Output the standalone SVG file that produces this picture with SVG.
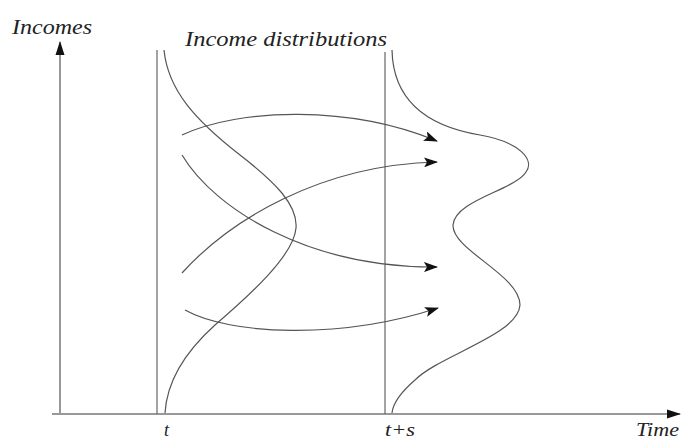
<svg xmlns="http://www.w3.org/2000/svg" width="682" height="441" viewBox="0 0 682 441">
<defs>
<marker id="ah" markerUnits="userSpaceOnUse" markerWidth="14" markerHeight="10" refX="13" refY="5" orient="auto">
<path d="M0,0 L14,5 L0,10 L3,5 Z" fill="#111"/>
</marker>
<marker id="axh" markerUnits="userSpaceOnUse" markerWidth="14" markerHeight="10" refX="13" refY="5" orient="auto">
<path d="M0,0.5 L14,5 L0,9.5 Z" fill="#111"/>
</marker>
<style>
.ax{stroke:#999;stroke-width:2;fill:none}
.vl{stroke:#666;stroke-width:1.2;fill:none}
.cv{stroke:#555;stroke-width:1.2;fill:none}
.ar{stroke:#555;stroke-width:1.2;fill:none;marker-end:url(#ah)}
.lb{font-family:"Liberation Serif",serif;font-style:italic;fill:#222}
</style>
</defs>
<rect width="682" height="441" fill="#fff"/>
<g id="axes">
<line class="ax" x1="60" y1="414" x2="60" y2="42" marker-end="url(#axh)"/>
<line class="ax" x1="52" y1="414" x2="680" y2="414" marker-end="url(#axh)"/>
</g>
<g id="time-t">
<line class="vl" x1="157" y1="50" x2="157" y2="414"/>
<text class="lb" x="164" y="436" font-size="18">t</text>
</g>
<g id="time-ts">
<line class="vl" x1="385" y1="52" x2="385" y2="414"/>
<text class="lb" x="385" y="436" font-size="18" textLength="30" lengthAdjust="spacingAndGlyphs">t+s</text>
</g>
<g id="dist-t">
<path class="cv" d="M164,50 C168,90 195,120 240,155 C275,182 298,205 296,228 C294,255 250,295 215,325 C185,352 167,380 165,413"/>
</g>
<g id="dist-ts">
<path class="cv" d="M392,50 C393,95 420,125 480,135 C520,142 535,160 526,172 C515,190 455,200 453,225 C452,250 520,275 520,305 C518,335 440,355 415,380 C400,393 393,403 392,413"/>
</g>
<g id="labels">
<text class="lb" x="12" y="34" font-size="21" textLength="80" lengthAdjust="spacingAndGlyphs">Incomes</text>
<text class="lb" x="185" y="46" font-size="22" textLength="202" lengthAdjust="spacingAndGlyphs">Income distributions</text>
<text class="lb" x="636" y="436" font-size="18" textLength="43" lengthAdjust="spacingAndGlyphs">Time</text>
</g>
<g id="connectors">
<path class="ar" d="M182,135 C240,108 350,105 437,141"/>
<path class="ar" d="M182,155 C215,210 310,268 437,267"/>
<path class="ar" d="M182,273 C230,220 320,165 437,162"/>
<path class="ar" d="M185,310 C230,335 340,340 438,308"/>
</g>
</svg>
